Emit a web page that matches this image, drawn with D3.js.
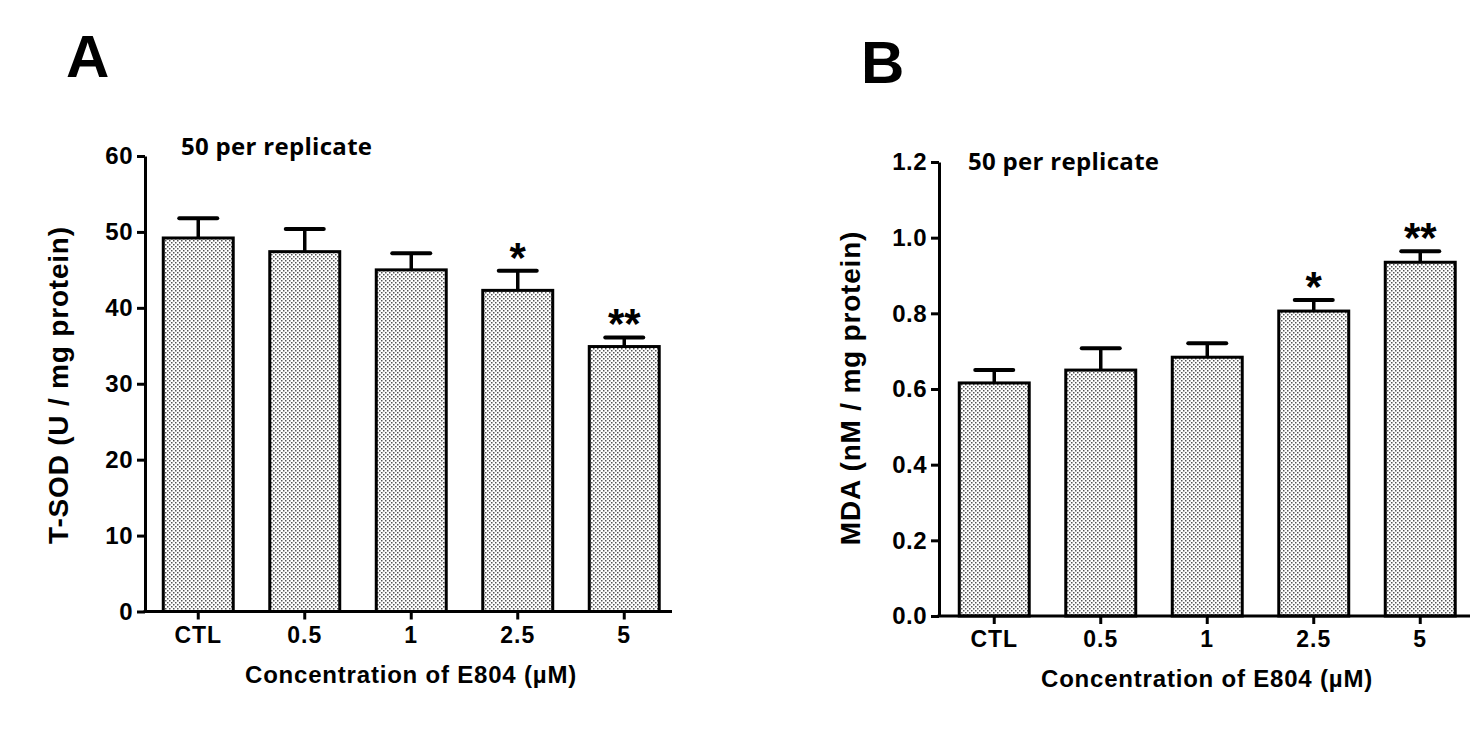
<!DOCTYPE html>
<html>
<head>
<meta charset="utf-8">
<script src="https://cdn.jsdelivr.net/npm/d3@7"></script>
<style>
  html, body { margin: 0; padding: 0; background: #fff; }
  svg { display: block; }
  .axis text { font-family: "Liberation Sans", Arial, sans-serif; font-weight: bold; fill: #000; }
  .axis path, .axis line { stroke: #000; stroke-width: 3; }
</style>
</head>
<body>
<div id="chart"></div>
<script>
// Data
const categories = ["CTL", "0.5", "1", "2.5", "5"];

const sodMeans = [49.2, 47.4, 45.0, 42.3, 34.9];
const sodErrors = [2.6, 3.0, 2.2, 2.6, 1.2];
const sodStars = ["", "", "", "*", "**"];
const sodTicks = [0, 10, 20, 30, 40, 50, 60];

const mdaMeans = [0.616, 0.650, 0.684, 0.806, 0.935];
const mdaErrors = [0.034, 0.058, 0.037, 0.029, 0.029];
const mdaStars = ["", "", "", "*", "**"];
const mdaTicks = [0, 0.2, 0.4, 0.6, 0.8, 1.0, 1.2];

const width = 1476, height = 733;

const svg = d3.select("#chart").append("svg")
    .attr("width", width).attr("height", height);

svg.append("rect").attr("width", width).attr("height", height).attr("fill", "#fff");

// dotted fill used by GraphPad style bars
const pattern = svg.append("defs").append("pattern")
    .attr("id", "dots")
    .attr("patternUnits", "userSpaceOnUse")
    .attr("width", 4).attr("height", 4);
pattern.append("rect").attr("width", 4).attr("height", 4).attr("fill", "#fff");
pattern.append("rect").attr("x", 0).attr("y", 0).attr("width", 1.5).attr("height", 1.5).attr("fill", "#555");
pattern.append("rect").attr("x", 2).attr("y", 2).attr("width", 1.5).attr("height", 1.5).attr("fill", "#555");

function drawPanel(cfg) {
    const g = svg.append("g").attr("transform", `translate(${cfg.left},${cfg.top})`);
    const innerHeight = cfg.innerHeight;

    // 1. Scales
    const x = d3.scaleBand().domain(categories)
        .range([cfg.bandStart, cfg.bandStart + 532.5])
        .paddingInner(0.343).paddingOuter(0.1715);
    const y = d3.scaleLinear().domain([0, cfg.yMax]).range([innerHeight, 0]);

    const rows = categories.map((c, i) => ({ cat: c, mean: cfg.means[i], err: cfg.errors[i], star: cfg.stars[i] }));

    // 2. Bars
    g.selectAll(".bar").data(rows).join("rect")
        .attr("class", "bar")
        .attr("x", d => x(d.cat))
        .attr("y", d => y(d.mean))
        .attr("width", x.bandwidth())
        .attr("height", d => innerHeight - y(d.mean))
        .attr("fill", "url(#dots)")
        .attr("stroke", "#000")
        .attr("stroke-width", 3);

    // 3. Upper error bars
    const cx = d => x(d.cat) + x.bandwidth() / 2;
    g.selectAll(".err").data(rows).join("line")
        .attr("x1", cx).attr("x2", cx)
        .attr("y1", d => y(d.mean)).attr("y2", d => y(d.mean + d.err))
        .attr("stroke", "#000").attr("stroke-width", 3.5);
    g.selectAll(".cap").data(rows).join("line")
        .attr("x1", d => cx(d) - 19).attr("x2", d => cx(d) + 19)
        .attr("y1", d => y(d.mean + d.err)).attr("y2", d => y(d.mean + d.err))
        .attr("stroke", "#000").attr("stroke-width", 4).attr("stroke-linecap", "round");

    // significance marks
    g.selectAll(".star").data(rows.filter(d => d.star)).join("text")
        .attr("x", cx)
        .attr("y", d => y(d.mean + d.err) + 1)
        .attr("text-anchor", "middle")
        .attr("font-family", "Liberation Sans, Arial, sans-serif")
        .attr("font-weight", "bold")
        .attr("font-size", "42px")
        .text(d => d.star);

    // 4. Axes
    const yAxis = g.append("g").attr("class", "axis")
        .call(d3.axisLeft(y).tickValues(cfg.ticks).tickFormat(cfg.fmt)
            .tickSize(8).tickSizeOuter(0).tickPadding(4));
    yAxis.selectAll("text").attr("font-size", "24px").style("letter-spacing", "0.5px");

    const xAxis = g.append("g").attr("class", "axis")
        .attr("transform", `translate(0,${innerHeight})`)
        .call(d3.axisBottom(x).tickSize(8).tickSizeOuter(0).tickPadding(7));
    xAxis.select(".domain").remove();
    xAxis.append("line")
        .attr("x1", -1.5).attr("x2", cfg.axisEnd)
        .attr("stroke", "#000").attr("stroke-width", 3);
    xAxis.selectAll("text").attr("font-size", "23px").style("letter-spacing", "1px");

    // 5. Titles
    g.append("text")
        .attr("x", cfg.bandStart + 266).attr("y", innerHeight + 71)
        .attr("text-anchor", "middle")
        .attr("font-family", "Liberation Sans, Arial, sans-serif")
        .attr("font-weight", "bold").attr("font-size", "24px")
        .style("letter-spacing", "0.8px")
        .text("Concentration of E804 (µM)");

    g.append("text")
        .attr("transform", `translate(${cfg.yTitleX},${cfg.yTitleY}) rotate(-90)`)
        .attr("text-anchor", "middle")
        .attr("font-family", "Liberation Sans, Arial, sans-serif")
        .attr("font-weight", "bold").attr("font-size", "28px")
        .style("letter-spacing", "0.8px")
        .text(cfg.yTitle);

    g.append("text")
        .attr("x", cfg.noteX).attr("y", cfg.noteY)
        .attr("font-family", "Open Sans, Noto Sans, sans-serif")
        .attr("font-weight", "bold").attr("font-size", "24px")
        .style("letter-spacing", "0.3px")
        .text("50 per replicate");

    svg.append("text")
        .attr("x", cfg.letterX).attr("y", cfg.letterY)
        .attr("font-family", "Liberation Sans, Arial, sans-serif")
        .attr("font-weight", "bold").attr("font-size", "60px")
        .text(cfg.letter);
}

drawPanel({
    letter: "A", letterX: 66, letterY: 77,
    left: 145, top: 156, innerHeight: 455.5, bandStart: 0, axisEnd: 527,
    yMax: 60, ticks: sodTicks, fmt: d3.format("d"),
    means: sodMeans, errors: sodErrors, stars: sodStars,
    yTitle: "T-SOD (U / mg protein)", yTitleX: -77, yTitleY: 229,
    noteX: 36, noteY: -1
});

drawPanel({
    letter: "B", letterX: 861, letterY: 83,
    left: 939, top: 162, innerHeight: 454, bandStart: 2, axisEnd: 531,
    yMax: 1.2, ticks: mdaTicks, fmt: d3.format(".1f"),
    means: mdaMeans, errors: mdaErrors, stars: mdaStars,
    yTitle: "MDA (nM / mg protein)", yTitleX: -79, yTitleY: 226,
    noteX: 29, noteY: 8
});
</script>
</body>
</html>
